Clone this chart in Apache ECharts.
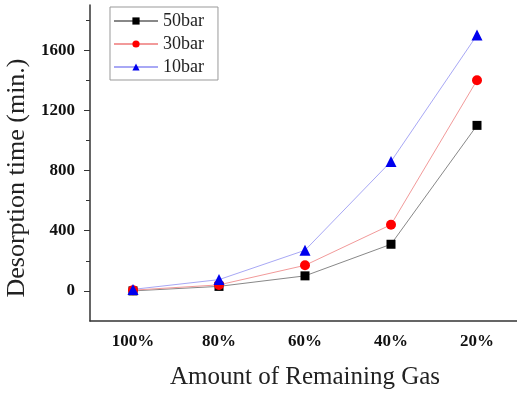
<!DOCTYPE html>
<html>
<head>
<meta charset="utf-8">
<script src="https://cdn.jsdelivr.net/npm/echarts@6/dist/echarts.min.js"></script>
<style>
  html, body { margin: 0; padding: 0; background: #fff; }
  #chart { width: 517px; height: 394px; }
</style>
</head>
<body>
<div id="chart"></div>
<script>
// data
const categories = ['100%', '80%', '60%', '40%', '20%'];
const bar50 = [0, 30, 100, 310, 1100];
const bar30 = [5, 40, 170, 440, 1400];
const bar10 = [10, 75, 270, 860, 1700];
const yMajor = [0, 400, 800, 1200, 1600];
const yMinor = [200, 600, 1000, 1400, 1800];

const font = 'Liberation Serif';
const axisColor = '#333';

const chart = echarts.init(document.getElementById('chart'));

function line(name, data, symbol, size, markColor, lineColor) {
  return {
    name: name,
    type: 'line',
    data: data,
    symbol: symbol,
    symbolSize: size,
    itemStyle: { color: markColor },
    lineStyle: { color: lineColor, width: 1 },
    animation: false
  };
}

chart.setOption({
  backgroundColor: '#fff',
  grid: { left: 90, top: 5, width: 430, bottom: 73, outerBoundsMode: 'none', containLabel: false },
  legend: {
    left: 110, top: 7,
    orient: 'vertical',
    itemGap: 5,
    itemWidth: 44, itemHeight: 9,
    padding: [5, 14, 4, 3],
    borderColor: '#999', borderWidth: 1, borderRadius: 0,
    textStyle: { fontFamily: font, fontSize: 18, color: '#222' },
    data: ['50bar', '30bar', '10bar']
  },
  xAxis: [{
    type: 'category',
    data: categories,
    boundaryGap: true,
    name: 'Amount of Remaining Gas',
    nameLocation: 'middle',
    nameGap: 44,
    nameTextStyle: { fontFamily: font, fontSize: 25, color: '#222' },
    axisLine: { onZero: false, lineStyle: { color: axisColor, width: 1.5 } },
    axisTick: { alignWithLabel: true, length: 6, lineStyle: { color: axisColor } },
    axisLabel: { fontFamily: font, fontSize: 17, fontWeight: 'bold', color: '#111', margin: 12 },
    splitLine: { show: false }
  }, {
    type: 'category',
    data: categories,
    boundaryGap: true,
    position: 'bottom',
    axisLine: { show: false, onZero: false },
    axisTick: { length: 4, lineStyle: { color: axisColor } },
    axisLabel: { show: false },
    splitLine: { show: false }
  }],
  yAxis: [{
    type: 'value',
    min: -200, max: 1900,
    name: 'Desorption time (min.)',
    nameLocation: 'middle',
    nameGap: 57,
    nameTextStyle: { fontFamily: font, fontSize: 26, color: '#222', padding: [0, 30, 0, 0] },
    axisLine: { show: true, onZero: false, lineStyle: { color: axisColor, width: 1.5 } },
    axisTick: { show: true, length: 6, customValues: yMajor, lineStyle: { color: axisColor } },
    axisLabel: {
      customValues: yMajor, formatter: v => String(v),
      fontFamily: font, fontSize: 17, fontWeight: 'bold', color: '#111', margin: 15
    },
    splitLine: { show: false }
  }, {
    type: 'value',
    min: -200, max: 1900,
    position: 'left',
    offset: 0,
    axisLine: { show: false, onZero: false },
    axisTick: { show: true, length: 4, customValues: yMinor, lineStyle: { color: axisColor } },
    axisLabel: { show: false },
    splitLine: { show: false }
  }],
  series: [
    line('50bar', bar50, 'rect', 9, '#000', '#888'),
    line('30bar', bar30, 'circle', 10, '#f00', '#f29a9a'),
    line('10bar', bar10, 'triangle', 11, '#0000ee', '#a8a8f5')
  ]
});
</script>
</body>
</html>
